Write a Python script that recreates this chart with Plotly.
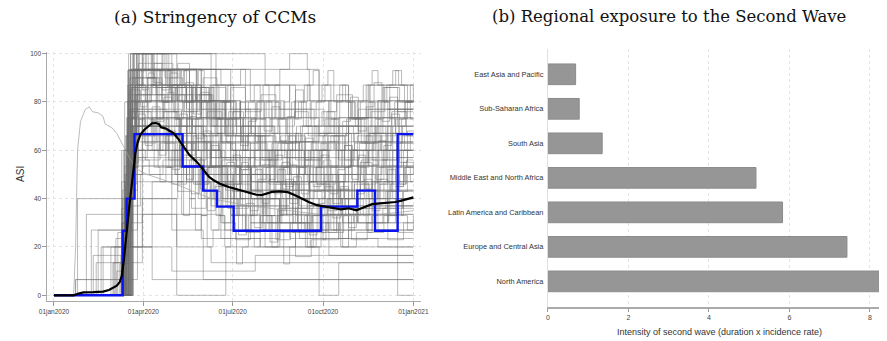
import plotly.graph_objects as go

# page body has an 8px margin: lay everything out in reference pixels and shift
OFF = 8
FW, FH = 887 - OFF, 341 - OFF


def fx(x):
    return (x - OFF) / FW


def fy(y):
    return (FH - (y - OFF)) / FH


# ---------------- Panel (a) data: day-of-2020 index, ASI value ----------------
date_tickvals = [0, 91, 182, 274, 366]
date_ticktext = ["01jan2020", "01apr2020", "01jul2020", "01oct2020", "01jan2021"]
asi_ticks = [0, 20, 40, 60, 80, 100]

early_curve_days = [0, 20, 22, 24, 27, 32, 36, 39, 45, 50, 52, 56, 60, 64, 68, 72, 78, 85, 95, 110, 130, 160, 200, 240, 280, 320, 366]
early_curve_vals = [0, 0, 20, 60, 72, 77, 78, 76, 75.5, 74, 71, 70, 69, 67, 64, 61, 56, 52, 50, 48, 45, 40, 37, 35, 33, 33, 35]

g01 = [(0,0),(66,0),(72,20),(78,73.5),(85,100),(120,93.5),(150,80.5),(185,70),(230,63.5),(270,67),(300,73.5),(322,87),(366,87)]
g02 = [(0,0),(62,0),(70,33.5),(76,93.5),(130,93.5),(150,77),(175,63.5),(200,57),(240,50),(275,53.5),(305,60),(340,70),(366,70)]
g03 = [(0,0),(70,0),(74,60),(80,100),(95,100),(110,87),(140,80.5),(165,67),(195,53.5),(225,47),(260,43.5),(290,50),(325,63.5),(366,63.5)]
g04 = [(0,0),(55,0),(60,13.5),(72,47),(80,80.5),(140,80.5),(160,70),(190,60),(215,73.5),(245,80.5),(280,70),(310,77),(366,77)]
g05 = [(0,0),(73,0),(76,87),(90,93.5),(150,93.5),(165,87),(200,87),(230,77),(265,70),(300,60),(320,53.5),(350,57),(366,57)]
g06 = [(0,0),(67,0),(70,27),(75,67),(83,87),(120,87),(140,70),(160,53.5),(190,40),(230,33.5),(260,37),(290,43.5),(330,50),(366,50)]
g07 = [(0,0),(69,0),(72,40),(79,77),(115,77),(130,63.5),(150,47),(175,37),(210,30),(260,27),(300,33.5),(340,37),(366,37)]
g08 = [(0,0),(75,0),(78,73.5),(85,93.5),(105,100),(125,93.5),(145,73.5),(170,57),(200,47),(230,53.5),(265,60),(300,67),(335,73.5),(366,73.5)]
g09 = [(0,0),(64,0),(68,16.5),(74,53.5),(82,70),(100,73.5),(135,60),(165,47),(200,43.5),(240,40),(270,33.5),(310,30),(366,30)]
g10 = [(0,0),(71,0),(74,50),(78,80.5),(110,80.5),(120,87),(150,87),(175,73.5),(205,63.5),(235,57),(270,47),(300,53.5),(330,60),(366,60)]
g11 = [(0,0),(40,0),(43,13.5),(66,13.5),(72,40),(80,63.5),(130,63.5),(160,53.5),(200,47),(250,40),(300,37),(366,37)]
g12 = [(0,0),(30,0),(33,33.5),(60,33.5),(75,70),(110,70),(140,57),(180,50),(220,43.5),(260,50),(310,57),(366,57)]
g13 = [(0,0),(20,0),(22,6.5),(78,6.5),(85,53.5),(140,53.5),(180,40),(230,30),(280,23.5),(330,20),(366,20)]
g14 = [(0,0),(45,0),(48,20),(72,20),(76,57),(95,87),(130,87),(150,80.5),(190,67),(240,63.5),(290,70),(330,80.5),(366,80.5)]
g15 = [(0,0),(60,0),(63,23.5),(75,73.5),(82,93.5),(150,93.5),(180,77),(210,63.5),(250,57),(290,47),(320,43.5),(366,43.5)]
g16 = [(0,0),(72,0),(76,63.5),(84,100),(135,100),(160,93.5),(195,80.5),(225,87),(260,80.5),(300,73.5),(340,77),(366,77)]
g17 = [(0,0),(66,0),(70,30),(80,60),(120,60),(150,50),(180,33.5),(210,27),(250,23.5),(300,27),(366,27)]
g18 = [(0,0),(58,0),(62,20),(70,20),(76,43.5),(85,67),(140,67),(170,57),(200,50),(240,57),(280,63.5),(320,67),(366,67)]
g19 = [(0,0),(74,0),(78,87),(115,87),(135,77),(160,67),(185,60),(220,53.5),(260,47),(295,40),(330,43.5),(366,43.5)]
g20 = [(0,0),(69,0),(73,47),(80,93.5),(100,93.5),(125,80.5),(150,63.5),(180,53.5),(215,60),(255,67),(290,73.5),(320,67),(366,67)]
g21 = [(0,0),(36,0),(40,16.5),(70,16.5),(76,37),(88,50),(150,50),(200,43.5),(260,37),(366,37)]
g22 = [(0,0),(76,0),(80,67),(90,80.5),(140,80.5),(175,70),(210,60),(250,63.5),(290,57),(330,63.5),(366,63.5)]
g23 = [(0,0),(68,0),(72,26),(79,93.5),(160,93.5),(200,87),(230,93.5),(260,87),(300,80.5),(340,77),(366,77)]
g24 = [(0,0),(22,0),(24,40),(75,40),(78,73.5),(120,73.5),(140,60),(170,50),(220,47),(270,43.5),(320,40),(366,40)]
g25 = [(0,0),(72,0),(76,33.5),(100,33.5),(125,20),(160,13.5),(366,13.5)]
g26 = [(0,0),(20,0),(22,6.5),(60,6.5),(70,20),(90,40),(120,27),(152,6.5),(366,6.5)]
g27 = [(0,0),(55,0),(58,20),(80,20),(100,47),(130,33.5),(170,23.5),(210,20),(366,20)]
g28 = [(0,0),(42,0),(45,27),(72,27),(78,60),(100,60),(130,47),(160,37),(200,30),(240,23.5),(280,16.5),(366,16.5)]
g29 = [(0,0),(70,0),(72,53.5),(78,100),(90,100),(100,93.5),(130,93.5),(145,80.5),(165,73.5),(195,77),(240,73.5),(280,80.5),(320,87),(366,87)]
g30 = [(0,0),(73,0),(77,77),(95,77),(115,67),(145,53.5),(175,43.5),(210,37),(240,43.5),(275,50),(310,47),(340,53.5),(366,53.5)]
g31 = [(0,0),(73,0),(76,100),(200,100),(215,93.5),(240,100),(258,93.5),(270,80.5),(300,73.5),(330,80.5),(366,80.5)]
g32 = [(0,0),(71,0),(75,80.5),(82,100),(150,100),(165,87),(190,93.5),(215,87),(240,77),(275,70),(310,63.5),(340,73.5),(366,73.5)]
g33 = [(0,0),(77,0),(80,40),(110,40),(125,0),(170,0),(175,20),(240,20),(270,0),(290,13.5),(366,13.5)]
g34 = [(0,0),(70,0),(74,30),(90,53.5),(150,53.5),(190,40),(230,27),(280,33.5),(330,27),(350,0),(366,0)]
g35 = [(0,0),(67,0),(71,60),(79,86),(125,86),(145,73.5),(175,66),(215,60),(255,53.5),(290,60),(325,67),(366,67)]
g36 = [(0,0),(78,0),(81,70),(120,70),(150,63.5),(180,57),(220,50),(260,43.5),(300,47),(366,47)]
g37 = [(0,0),(72,0),(75,56),(83,93.5),(118,93.5),(138,86),(158,80.5),(190,70),(225,63.5),(265,70),(305,63.5),(345,70),(366,70)]
g38 = [(0,0),(65,0),(69,36),(76,76),(105,76),(125,70),(155,60),(185,50),(220,40),(260,47),(300,53.5),(366,53.5)]
g39 = [(0,0),(74,0),(77,93.5),(140,93.5),(160,80.5),(180,73.5),(200,67),(240,60),(280,53.5),(320,60),(366,60)]
g40 = [(0,0),(61,0),(65,26),(73,50),(90,63.5),(130,63.5),(160,57),(200,47),(250,37),(300,30),(340,33.5),(366,33.5)]
g41 = [(0,0),(70,0),(73,66),(82,83),(130,83),(160,77),(200,73.5),(240,67),(280,73.5),(320,77),(366,77)]
g42 = [(0,0),(75,0),(79,50),(90,73.5),(140,73.5),(170,63.5),(210,53.5),(250,47),(290,40),(330,47),(366,47)]
g43 = [(0,0),(68,0),(72,20),(78,57),(120,57),(150,47),(190,37),(240,30),(290,23.5),(366,23.5)]
g44 = [(0,0),(73,0),(76,83),(100,100),(115,93.5),(150,93.5),(170,87),(200,80.5),(235,73.5),(270,67),(310,73.5),(350,80.5),(366,80.5)]
g45 = [(0,0),(66,0),(70,43.5),(80,70),(110,70),(135,60),(170,53.5),(210,57),(250,50),(290,43.5),(330,40),(366,40)]

h01 = [(0,0),(71,0),(73,46),(77,90),(96,90),(104,83),(118,90),(131,76),(146,83),(160,70),(176,63),(191,70),(205,56),(222,63),(238,50),(255,60),(270,53),(288,63),(300,70),(318,60),(333,66),(348,73),(366,73)]
h02 = [(0,0),(66,0),(69,20),(74,66),(86,96),(110,96),(121,86),(135,80),(149,86),(163,73),(177,66),(192,60),(210,66),(226,53),(242,46),(260,53),(278,43),(295,50),(313,56),(330,46),(345,53),(366,53)]
h03 = [(0,0),(75,0),(77,60),(83,76),(99,70),(112,76),(127,63),(140,56),(155,63),(168,50),(182,43),(197,50),(212,40),(226,46),(243,36),(258,43),(273,33),(290,40),(306,46),(321,36),(338,43),(352,50),(366,50)]
h04 = [(0,0),(69,0),(72,33),(77,86),(91,100),(101,86),(116,93),(128,80),(141,86),(155,73),(169,80),(183,66),(198,73),(214,80),(229,70),(245,76),(259,66),(276,73),(291,80),(307,70),(323,76),(337,86),(352,80),(366,80)]
h05 = [(0,0),(73,0),(76,50),(81,70),(92,63),(104,70),(117,56),(131,63),(144,46),(158,53),(171,40),(186,46),(200,33),(215,40),(230,30),(246,36),(262,26),(277,33),(293,40),(309,30),(324,36),(340,43),(355,36),(366,36)]
h06 = [(0,0),(62,0),(64,10),(70,30),(75,63),(84,83),(102,83),(113,76),(127,83),(141,70),(156,76),(171,63),(185,56),(200,63),(217,56),(232,63),(247,70),(263,60),(279,66),(296,56),(311,63),(327,70),(343,60),(366,60)]
h07 = [(0,0),(77,0),(79,70),(87,93),(108,93),(119,83),(133,76),(148,83),(162,70),(178,76),(193,63),(208,70),(224,60),(239,66),(256,56),(272,63),(287,53),(303,60),(318,66),(334,56),(350,63),(366,63)]
h08 = [(0,0),(68,0),(71,23),(76,53),(85,73),(101,66),(114,73),(128,60),(142,66),(156,53),(170,46),(185,53),(201,40),(216,33),(232,40),(248,30),(263,36),(279,26),(295,33),(310,40),(326,30),(341,36),(356,43),(366,43)]
h09 = [(0,0),(74,0),(76,80),(81,100),(102,100),(113,90),(126,96),(138,86),(152,90),(166,80),(180,86),(195,76),(211,83),(226,73),(242,80),(257,70),(273,76),(288,83),(304,73),(320,80),(335,86),(350,76),(366,76)]
h10 = [(0,0),(70,0),(73,40),(79,60),(93,56),(108,63),(123,50),(138,56),(153,43),(168,50),(183,36),(198,43),(213,30),(228,36),(243,26),(258,33),(274,23),(290,30),(305,36),(320,26),(336,33),(351,40),(366,40)]
h11 = [(0,0),(72,0),(74,66),(80,86),(97,80),(110,86),(124,73),(138,80),(152,66),(166,73),(180,60),(195,66),(210,53),(225,60),(241,50),(256,56),(272,46),(287,53),(302,60),(318,50),(334,56),(349,63),(366,63)]
h12 = [(0,0),(67,0),(70,16),(75,46),(84,70),(100,70),(112,63),(126,56),(141,63),(156,50),(171,56),(186,43),(201,50),(217,40),(233,46),(249,36),(264,43),(280,50),(296,40),(312,46),(328,53),(344,43),(360,50),(366,50)]
h13 = [(0,0),(76,0),(78,76),(85,93),(104,86),(116,93),(130,80),(144,86),(158,73),(172,80),(186,66),(201,73),(216,60),(231,66),(246,56),(262,63),(278,53),(293,60),(309,66),(324,56),(340,63),(355,70),(366,70)]
h14 = [(0,0),(64,0),(67,13),(72,36),(79,60),(92,60),(106,53),(120,46),(135,53),(150,40),(165,46),(180,33),(195,26),(210,33),(226,23),(241,30),(256,20),(272,26),(288,33),(303,23),(319,30),(335,36),(350,26),(366,26)]
h15 = [(0,0),(73,0),(75,56),(82,80),(95,90),(107,80),(121,86),(135,73),(149,80),(164,66),(178,73),(193,60),(208,66),(223,53),(238,60),(253,70),(269,60),(285,66),(300,73),(316,63),(331,70),(347,80),(366,80)]
h16 = [(0,0),(71,0),(74,36),(80,73),(90,66),(103,73),(117,60),(130,66),(145,53),(160,60),(174,46),(189,53),(204,60),(219,46),(234,53),(249,40),(265,46),(281,36),(296,43),(312,50),(327,40),(343,46),(358,53),(366,53)]
h17 = [(0,0),(78,0),(80,53),(86,66),(100,60),(114,66),(128,53),(142,46),(157,53),(172,40),(187,33),(202,40),(217,30),(232,36),(248,26),(263,33),(278,40),(294,30),(309,36),(325,43),(340,33),(356,40),(366,40)]
h18 = [(0,0),(69,0),(72,30),(78,80),(89,93),(106,93),(118,86),(133,93),(146,80),(160,86),(175,73),(190,80),(205,66),(220,73),(236,63),(251,70),(267,60),(282,66),(298,73),(313,63),(329,70),(344,76),(359,66),(366,66)]
h19 = [(0,0),(75,0),(77,40),(83,56),(97,50),(111,56),(126,43),(140,36),(155,43),(170,30),(185,23),(200,30),(215,20),(230,26),(246,16),(262,23),(277,30),(292,20),(308,26),(324,33),(340,23),(356,30),(366,30)]
h20 = [(0,0),(66,0),(69,26),(75,70),(83,90),(99,90),(110,80),(124,86),(138,73),(152,66),(167,73),(182,60),(197,66),(212,56),(228,63),(243,53),(259,60),(274,66),(290,56),(306,63),(322,70),(338,60),(354,66),(366,66)]
h21 = [(0,0),(48,0),(50,20),(95,20),(100,6.5),(366,6.5)]
h22 = [(0,0),(58,0),(61,13.5),(90,33.5),(130,33.5),(150,23.5),(200,23.5),(230,33.5),(366,33.5)]
h23 = [(0,0),(36,0),(38,27),(80,27),(85,47),(130,47),(160,27),(366,27)]
h24 = [(0,0),(70,0),(74,20),(110,20),(120,10),(200,10),(205,16.5),(366,16.5)]

n01 = [(0,0),(70,0),(74,73.5),(80,90),(90,85),(96,92),(102,88),(110,80),(116,84),(122,76),(130,70),(138,74),(145,65),(152,68),(160,60),(168,63),(175,56),(183,58),(190,52),(198,57),(205,50),(212,54),(220,47),(228,52),(236,45),(244,49),(252,42),(260,47),(268,40),(276,45),(284,38),(292,44),(300,36),(308,42),(316,48),(324,40),(332,46),(340,52),(348,45),(356,55),(366,50)]
n02 = [(0,0),(68,0),(72,50),(78,85),(88,78),(95,90),(104,72),(112,82),(120,66),(128,75),(136,58),(144,70),(152,50),(160,62),(168,45),(176,55),(184,40),(192,52),(200,35),(208,48),(216,60),(224,42),(232,55),(240,38),(248,50),(256,65),(264,45),(272,58),(280,35),(288,50),(296,62),(304,40),(312,55),(320,70),(328,48),(336,62),(344,75),(352,55),(360,68),(366,68)]
n03 = [(0,0),(74,0),(78,66),(84,80),(92,70),(100,78),(108,60),(116,68),(124,50),(132,58),(140,42),(148,52),(156,35),(164,45),(172,30),(180,40),(188,25),(196,38),(204,28),(212,42),(220,22),(228,35),(236,48),(244,30),(252,40),(260,25),(268,38),(276,50),(284,32),(292,45),(300,28),(308,40),(316,55),(324,35),(332,48),(340,30),(348,45),(356,60),(366,60)]
n04 = [(0,0),(65,0),(70,40),(76,93),(86,100),(94,90),(102,96),(110,85),(118,92),(126,80),(134,88),(142,75),(150,84),(158,70),(166,80),(174,66),(182,76),(190,62),(198,72),(206,80),(214,68),(222,78),(230,64),(238,74),(246,85),(254,70),(262,80),(270,66),(278,76),(286,60),(294,72),(302,82),(310,68),(318,78),(326,88),(334,72),(342,82),(350,70),(358,80),(366,80)]
n05 = [(0,0),(76,0),(79,55),(86,75),(93,62),(100,72),(107,58),(114,66),(121,52),(128,62),(135,48),(142,57),(149,44),(156,53),(163,40),(170,50),(177,36),(184,46),(191,55),(198,42),(205,52),(212,38),(219,48),(226,58),(233,44),(240,54),(247,40),(254,50),(261,60),(268,46),(275,56),(282,42),(289,52),(296,62),(303,48),(310,58),(317,44),(324,54),(331,64),(338,50),(345,60),(352,46),(359,56),(366,56)]

# countries with frequent (weekly-ish) changes, on two reporting calendars
grid_a_days = [0,72,78,84,90,96,102,108,114,120,126,132,138,144,150,156,162,168,174,180,186,192,198,204,210,216,222,228,234,240,246,252,258,264,270,276,282,288,294,300,306,312,318,324,330,336,342,348,354,360,366]
grid_b_days = [0,69,75,81,87,93,99,105,111,117,123,129,135,141,147,153,159,165,171,177,183,189,195,201,207,213,219,225,231,237,243,249,255,261,267,273,279,285,291,297,303,309,315,321,327,333,339,345,351,357,363,366]
m01 = [0,60,93,87,100,93,87,93,80,87,73,80,67,73,80,67,60,67,73,60,53,60,67,53,47,53,60,47,53,60,67,53,47,53,60,67,73,60,53,60,67,73,80,67,73,80,73,67,73,80,80]
m02 = [0,40,73,67,80,73,60,67,53,60,47,53,40,47,33,40,47,33,27,33,40,27,33,40,47,33,27,33,40,47,33,40,27,33,40,47,53,40,33,40,47,53,40,47,53,60,47,53,60,53,53]
m03 = [0,80,100,93,100,100,93,87,93,80,87,93,80,87,73,80,87,73,80,73,67,73,80,87,73,80,67,73,80,87,73,80,87,93,80,87,73,80,87,80,73,80,87,93,87,80,87,93,87,80,87]
m04 = [0,20,53,60,67,60,53,47,53,40,47,33,40,27,33,20,27,33,20,27,13,20,27,20,27,33,20,27,13,20,27,33,20,27,33,40,27,33,20,27,33,40,27,33,40,47,33,40,33,27,33]
m05 = [0,30,73,80,87,80,87,73,80,67,73,60,67,73,60,67,53,60,47,53,60,47,53,40,47,53,60,47,53,60,67,53,60,47,53,60,67,73,60,67,60,53,60,67,73,67,60,67,73,80,73,73]
m06 = [0,47,87,93,87,80,87,73,80,87,73,67,73,60,67,53,60,67,53,47,53,40,47,53,40,33,40,47,33,40,47,53,40,47,53,60,47,40,47,53,60,47,53,60,67,60,53,60,67,60,67,67]
m07 = [0,13,60,67,73,67,73,60,67,53,60,53,47,53,40,47,40,33,40,47,33,40,27,33,40,27,33,40,47,33,40,27,33,20,27,33,40,27,33,40,47,40,33,40,47,53,47,40,47,53,47,47]
m08 = [0,60,93,100,93,100,87,93,100,93,87,93,80,87,93,80,87,73,80,87,73,80,67,73,80,87,73,80,73,67,73,80,87,73,80,87,93,80,87,80,73,80,87,80,73,80,87,93,87,80,87,87]

step_series = [g01, g02, g03, g04, g05, g06, g07, g08, g09, g10, g11, g12, g13, g14, g15,
               g16, g17, g18, g19, g20, g21, g22, g23, g24, g25, g26, g27, g28, g29, g30,
               g31, g32, g33, g34, g35, g36, g37, g38, g39, g40, g41, g42, g43, g44, g45,
               h01, h02, h03, h04, h05, h06, h07, h08, h09, h10, h11, h12, h13, h14, h15,
               h16, h17, h18, h19, h20, h21, h22, h23, h24,
               n01, n02, n03, n04, n05]
grid_series = [(grid_a_days, m01), (grid_a_days, m02), (grid_a_days, m03), (grid_a_days, m04),
               (grid_b_days, m05), (grid_b_days, m06), (grid_b_days, m07), (grid_b_days, m08)]

mean_days = [0,20,25,30,40,50,56,60,64,67,69,71,73,75,77,79,81,83,85,88,92,96,100,104,107,109,114,118,122,126,130,134,138,142,146,150,154,158,163,170,178,186,194,200,206,212,217,222,230,238,245,252,260,268,276,284,292,300,304,308,312,318,324,332,340,348,354,360,366]
mean_vals = [0,0,0.7,1.2,1.3,1.5,2.2,3,4,5.5,8,14,21,30,38,46,53,59,63,66.5,68.5,70,71.2,71.3,70.8,69.5,69,68,67,65,62.5,60,58,56.5,55,53,51,49,47.5,46,44.8,43.8,43,42.3,41.6,41.5,42,42.8,43,42.7,41.5,40,38.5,37.3,36.8,36,35.6,36,35.5,35.2,35.8,36.8,37.7,38,38.3,38.6,39.2,40,40.5]

blue_days = [0, 70, 74, 82, 131, 152, 166, 183, 272, 309, 327, 350, 366]
blue_vals = [0, 26.7, 40, 66.7, 53.3, 43.3, 36.7, 26.7, 36.7, 43.3, 26.7, 66.7, 66.7]

# ---------------- Panel (b) data ----------------
regions = ["North America", "Europe and Central Asia", "Latin America and Caribbean",
           "Middle East and North Africa", "South Asia", "Sub-Saharan Africa", "East Asia and Pacific"]
intensity = [8.6, 7.43, 5.83, 5.17, 1.35, 0.78, 0.69]
intensity_ticks = [0, 2, 4, 6, 8]

fig = go.Figure()

GRAY_LINE = dict(color="rgba(110,110,110,0.48)", width=1, shape="hv")
for s in step_series:
    fig.add_trace(go.Scatter(x=[p[0] for p in s], y=[p[1] for p in s], mode="lines",
                             line=GRAY_LINE, xaxis="x", yaxis="y",
                             showlegend=False, hoverinfo="skip"))
for days, vals in grid_series:
    fig.add_trace(go.Scatter(x=days, y=vals, mode="lines", line=GRAY_LINE,
                             xaxis="x", yaxis="y", showlegend=False, hoverinfo="skip"))
fig.add_trace(go.Scatter(x=early_curve_days, y=early_curve_vals, mode="lines",
                         line=dict(color="rgba(160,160,160,0.7)", width=1),
                         xaxis="x", yaxis="y", showlegend=False, hoverinfo="skip"))
fig.add_trace(go.Scatter(x=blue_days, y=blue_vals, mode="lines",
                         line=dict(color="#0a14f0", width=2.4, shape="hv"),
                         xaxis="x", yaxis="y", showlegend=False))
fig.add_trace(go.Scatter(x=mean_days, y=mean_vals, mode="lines",
                         line=dict(color="#000000", width=2.2),
                         xaxis="x", yaxis="y", showlegend=False))

fig.add_trace(go.Bar(x=intensity, y=regions, orientation="h",
                     marker=dict(color="#969696", line=dict(color="#8c8c8c", width=1)),
                     xaxis="x2", yaxis="y2", showlegend=False))

SANS = "Liberation Sans, Arial, sans-serif"
small_ticks = dict(family=SANS, size=6.5, color="#444444")
grid = dict(showgrid=True, gridcolor="#e4e4e4", griddash="dot", gridwidth=1)

fig.update_layout(
    width=FW, height=FH,
    margin=dict(l=0, r=0, t=0, b=0),
    paper_bgcolor="white", plot_bgcolor="white",
    bargap=0.4,
    xaxis=dict(domain=[fx(40), fx(420)], range=[-6.7, 373.3], tickvals=date_tickvals,
               ticktext=date_ticktext, ticks="outside", ticklen=4, tickcolor="#999999",
               showline=True, linecolor="#aaaaaa", linewidth=1, zeroline=False,
               tickfont=small_ticks, anchor="y", **grid),
    yaxis=dict(domain=[fy(301), fy(50)], range=[-2.47, 100.8], tickvals=asi_ticks,
               ticks="outside", ticklen=4, tickcolor="#999999", showline=True,
               linecolor="#aaaaaa", linewidth=1, zeroline=False, tickfont=small_ticks,
               anchor="x", **grid),
    xaxis2=dict(domain=[fx(549.7), 1.0], range=[0, 8.226], tickvals=intensity_ticks,
                ticks="outside", ticklen=3, tickcolor="#999999", showline=True,
                linecolor="#aaaaaa", linewidth=1.5, zeroline=False,
                tickfont=dict(family=SANS, size=7, color="#444444"),
                anchor="y2", **grid),
    yaxis2=dict(domain=[fy(306.7), fy(47)], range=[-0.74, 6.74],
                categoryorder="array", categoryarray=regions, showgrid=False,
                ticks="outside", ticklen=2, tickcolor="rgba(0,0,0,0)",
                showline=True, linecolor="#e0e0e0", linewidth=1,
                tickfont=dict(family=SANS, size=7.4, color="#333333"),
                anchor="x2"),
    annotations=[
        dict(text="(a) Stringency of CCMs", x=fx(211), y=fy(15), xref="paper", yref="paper",
             showarrow=False, xanchor="center", yanchor="middle",
             font=dict(family="DejaVu Serif, serif", size=17, color="#111111")),
        dict(text="(b) Regional exposure to the Second Wave", x=fx(673), y=fy(15),
             xref="paper", yref="paper", showarrow=False, xanchor="center", yanchor="middle",
             font=dict(family="DejaVu Serif, serif", size=16.5, color="#111111")),
        dict(text="ASI", x=fx(12), y=fy(173), xref="paper", yref="paper", textangle=-90,
             showarrow=False, xanchor="center", yanchor="middle",
             font=dict(family=SANS, size=10, color="#333333")),
        dict(text="Intensity of second wave (duration x incidence rate)", x=fx(725), y=fy(332),
             xref="paper", yref="paper", showarrow=False, xanchor="center", yanchor="middle",
             font=dict(family=SANS, size=9, color="#333333")),
    ],
)

fig.write_html("out.html")
